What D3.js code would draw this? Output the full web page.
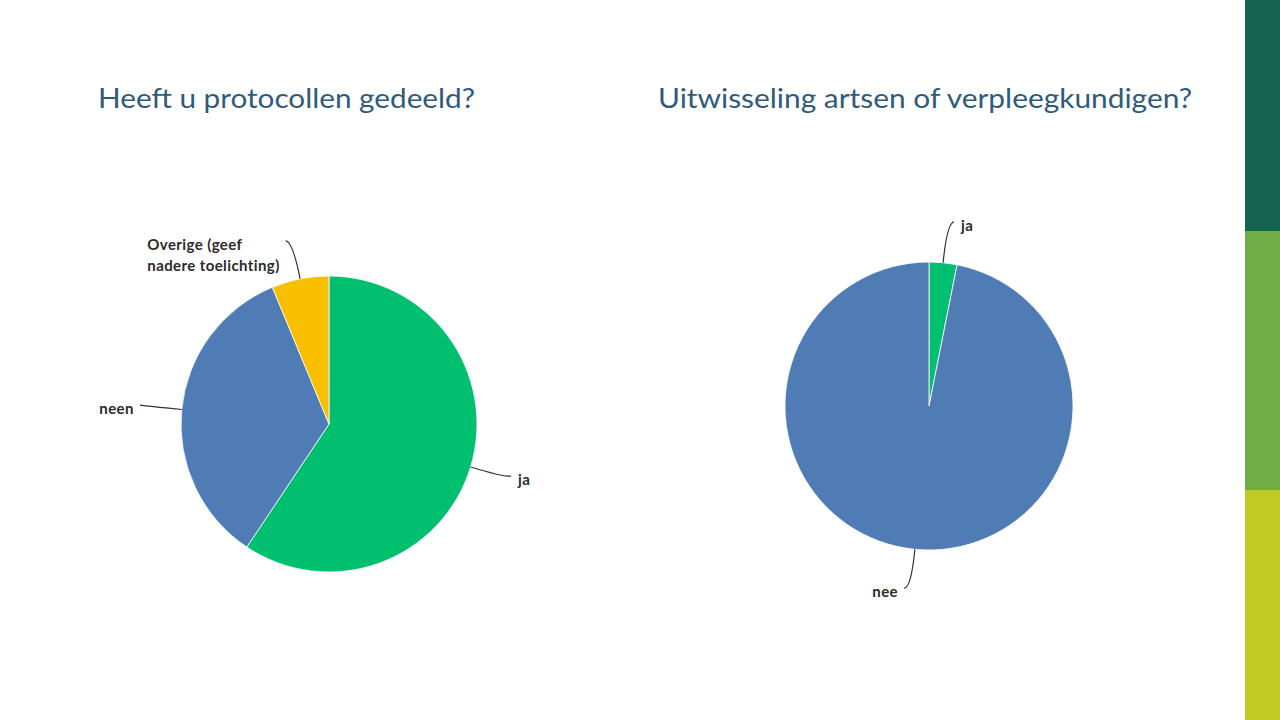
<!DOCTYPE html>
<html lang="nl">
<head>
<meta charset="UTF-8">
<title>Protocollen en uitwisseling</title>
<style>
  body { margin: 0; background: #fff; }
  svg { display: block; }
  .title { font-family: Lato, "Open Sans", sans-serif; font-size: 27px; fill: #2f5a7c; }
  .lbl { font-family: Lato, Roboto, sans-serif; font-weight: 700; font-size: 15px; letter-spacing: 0.4px; fill: #2b2b2b; }
  .leader { fill: none; stroke: #333; stroke-width: 1.2; }
</style>
</head>
<body>
<svg width="1280" height="720"></svg>
<script src="https://d3js.org/d3.v7.min.js"></script>
<script>
// chart 1: Heeft u protocollen gedeeld?
const cats1 = ["ja", "neen", "Overige (geef|nadere toelichting)"];
const vals1 = [19, 11, 2];
const cols1 = ["#00bf6f", "#507cb6", "#f9be00"];

// chart 2: Uitwisseling artsen of verpleegkundigen?
const cats2 = ["ja", "nee"];
const vals2 = [1, 31];
const cols2 = ["#00bf6f", "#507cb6"];

const titles = ["Heeft u protocollen gedeeld?", "Uitwisseling artsen of verpleegkundigen?"];

const svg = d3.select("svg");

// side colour band
const bands = [
  { y0: 0, y1: 231, c: "#14634f" },
  { y0: 231, y1: 490, c: "#70ad47" },
  { y0: 490, y1: 720, c: "#c1c923" }
];
svg.selectAll("rect.band").data(bands).enter().append("rect")
  .attr("class", "band")
  .attr("x", 1245).attr("width", 35)
  .attr("y", d => d.y0).attr("height", d => d.y1 - d.y0)
  .attr("fill", d => d.c);

// titles
svg.append("text").attr("class", "title").attr("x", 98).attr("y", 108).text(titles[0])
  .attr("textLength", 377).attr("lengthAdjust", "spacingAndGlyphs");
svg.append("text").attr("class", "title").attr("x", 658).attr("y", 108).text(titles[1])
  .attr("textLength", 534).attr("lengthAdjust", "spacingAndGlyphs");

function drawPie(cx, cy, r, cats, vals, cols, lens) {
  const g = svg.append("g").attr("transform", `translate(${cx},${cy})`);
  const pie = d3.pie().sort(null).value(d => d)(vals);
  const arc = d3.arc().innerRadius(0).outerRadius(r);

  g.selectAll("path.slice").data(pie).enter().append("path")
    .attr("class", "slice")
    .attr("d", arc)
    .attr("fill", (d, i) => cols[i])
    .attr("stroke", "#fff")
    .attr("stroke-width", 0.8);

  pie.forEach((d, i) => {
    const a = (d.startAngle + d.endAngle) / 2;
    const s = Math.sin(a), c = -Math.cos(a);
    const p0 = [r * s, r * c];
    const p1 = [(r + lens[i]) * s, (r + lens[i]) * c];
    const dir = s >= 0 ? 1 : -1;
    const end = [p1[0] + dir * 7, p1[1] - 1];
    g.append("path").attr("class", "leader")
      .attr("d", `M${p0[0]},${p0[1]} Q${p1[0]},${p1[1]} ${end[0]},${end[1]}`);
    const lines = cats[i].split("|");
    const t = g.append("text").attr("class", "lbl")
      .attr("y", end[1] + 9);
    const spans = lines.map((ln, k) =>
      t.append("tspan").attr("dy", k === 0 ? 0 : 21).text(ln));
    // block is placed beside the line end, lines left aligned
    const w = d3.max(spans, sp => sp.node().getComputedTextLength());
    const x0 = dir > 0 ? end[0] + 7 : end[0] - 6 - w;
    spans.forEach(sp => sp.attr("x", x0));
  });
}

drawPie(329, 424, 148, cats1, vals1, cols1, [35, 35, 38]);
drawPie(929, 406, 144, cats2, vals2, cols2, [40, 40]);
</script>
</body>
</html>
